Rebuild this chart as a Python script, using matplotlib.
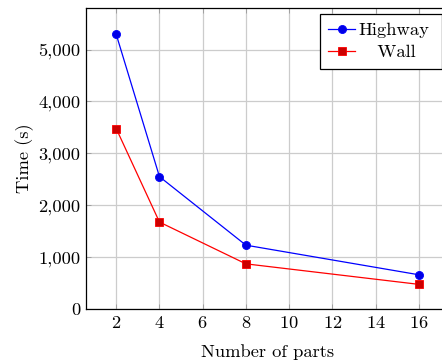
import matplotlib
matplotlib.use("Agg")
import matplotlib.pyplot as plt
from matplotlib.ticker import FuncFormatter, MultipleLocator

plt.rcParams["font.family"] = ["cmr10", "DejaVu Serif"]
plt.rcParams["axes.formatter.use_mathtext"] = True

parts = [2, 4, 8, 16]
highway = [5290, 2550, 1230, 660]
wall = [3475, 1675, 870, 475]

FS = 13.3

fig = plt.figure(figsize=(4.42, 3.63), dpi=100)
ax = fig.add_axes([86 / 442, 1 - 309 / 363, 363 / 442, 301 / 363])

ax.plot(parts, highway, color=(0, 0, 1), lw=0.9, marker="o", ms=5.8,
        mfc=(0, 0, 0.9), mec=(0, 0, 1), mew=0.6, label="Highway", zorder=3)
ax.plot(parts, wall, color=(1, 0, 0), lw=0.9, marker="s", ms=5.2,
        mfc=(0.8, 0, 0), mec=(1, 0, 0), mew=0.6, label="   Wall   ", zorder=3)

ax.set_xlim(0.6, 17.4)
ax.set_ylim(0, 5800)
ax.xaxis.set_major_locator(MultipleLocator(2))
ax.yaxis.set_major_locator(MultipleLocator(1000))
ax.yaxis.set_major_formatter(FuncFormatter(lambda v, p: f"{v:,.0f}"))

ax.grid(True, color="#cccccc", lw=0.9)
ax.set_axisbelow(True)
ax.tick_params(direction="in", length=3.5, width=0.6, color="#999999",
               top=True, right=True, labelsize=FS, pad=4)
for s in ax.spines.values():
    s.set_linewidth(0.9)

ax.set_xlabel("Number of parts", fontsize=FS, labelpad=10)
ax.set_ylabel("Time (s)", fontsize=FS, labelpad=3)

leg = ax.legend(loc="upper right", bbox_to_anchor=(356 / 363, 295 / 301),
                borderaxespad=0, fontsize=FS,
                frameon=True, fancybox=False, edgecolor="black",
                framealpha=1, borderpad=0.45, handlelength=1.45,
                handletextpad=0.2, labelspacing=0.33)
leg.get_frame().set_linewidth(0.9)

fig.savefig("out.png", dpi=100)
